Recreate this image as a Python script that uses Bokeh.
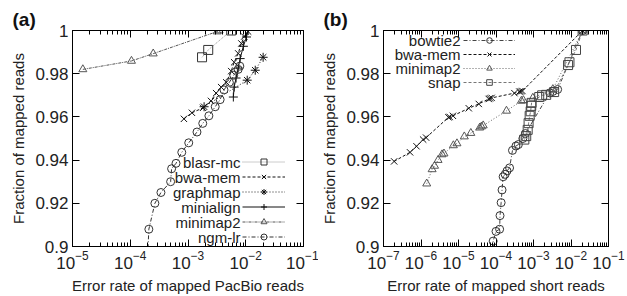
from bokeh.plotting import figure
from bokeh.layouts import row
from bokeh.models import (LogAxis, LinearAxis, FixedTicker, CustomJSTickFormatter,
                          LogTickFormatter, Label, Legend, LegendItem, Range1d)
from bokeh.embed import file_html
from bokeh.resources import INLINE

# ---------------- data: panel (a) PacBio ----------------
blasr_x = [1.75e-3, 2.24e-3, 5.6e-3]
blasr_y = [0.9876, 0.991, 1.0]
bwa_a_x = [8.5e-4, 1.17e-3, 1.82e-3, 2.5e-3, 3.07e-3, 3.75e-3, 4.6e-3, 5.6e-3, 6.3e-3,
           7.4e-3, 8.4e-3, 9.4e-3, 1.1e-2]
bwa_a_y = [0.9591, 0.9619, 0.9642, 0.9674, 0.971, 0.9738, 0.976, 0.9812, 0.9853,
           0.9894, 0.994, 0.9972, 0.9995]
graphmap_x = [1.9e-3, 1.06e-2, 1.46e-2, 2.0e-2]
graphmap_y = [0.9647, 0.977, 0.9816, 0.9876]
minialign_x = [6.1e-3, 6.3e-3, 6.8e-3, 7.4e-3, 8.0e-3, 9.1e-3, 1.03e-2, 1.1e-2]
minialign_y = [0.9692, 0.9738, 0.978, 0.9826, 0.987, 0.9927, 0.997, 1.0]
minimap2_a_x = [1.51e-5, 1.05e-4, 2.5e-4, 3.2e-3, 3.45e-3]
minimap2_a_y = [0.982, 0.9859, 0.9893, 0.9995, 1.0]
ngm_x = [2.0e-4, 2.1e-4, 2.67e-4, 3.4e-4, 5.0e-4, 5.2e-4, 6.2e-4, 7.8e-4, 1.03e-3, 1.43e-3,
         1.8e-3, 2.3e-3, 2.96e-3, 3.6e-3, 4.2e-3, 5.2e-3, 6.2e-3, 7.4e-3, 7.9e-3]
ngm_y = [0.895, 0.908, 0.920, 0.925, 0.930, 0.936, 0.9385, 0.9436, 0.948, 0.953,
         0.957, 0.9605, 0.9647, 0.968, 0.9725, 0.976, 0.9793, 0.982, 0.9835]

# ---------------- data: panel (b) short reads ----------------
bowtie2_x = [8.2e-5, 8.4e-5, 1.0e-4, 1.25e-4, 1.28e-4, 1.37e-4, 1.45e-4, 1.55e-4, 1.75e-4,
             1.97e-4, 2.3e-4, 2.75e-4, 3.4e-4, 3.95e-4, 5.2e-4, 6.1e-4, 2.7e-3, 3.3e-3,
             4.4e-3, 2.04e-2]
bowtie2_y = [0.895, 0.9025, 0.907, 0.908, 0.9143, 0.9203, 0.9262, 0.9323, 0.9334,
             0.935, 0.9364, 0.9445, 0.9465, 0.9472, 0.950, 0.9523, 0.9711, 0.9718,
             0.9727, 1.0]
bwa_b_x = [1.92e-7, 5.1e-7, 7.6e-7, 1.14e-6, 1.37e-6, 5.4e-6, 5.8e-6, 7.1e-6, 1.88e-5,
           3.47e-5, 6.4e-5, 6.9e-5, 7.65e-5, 3.1e-4, 4.2e-4, 4.6e-4, 5.06e-4, 2.04e-2]
bwa_b_y = [0.9394, 0.9436, 0.9464, 0.9495, 0.9504, 0.9598, 0.960, 0.9605, 0.964,
           0.966, 0.9683, 0.9686, 0.9688, 0.971, 0.9717, 0.9718, 0.972, 1.0]
minimap2_b_x = [1.42e-6, 1.98e-6, 2.3e-6, 2.85e-6, 3.64e-6, 4.1e-6, 7.3e-6, 9.1e-6, 1.43e-5,
                2.13e-5, 3.68e-5, 4.1e-5, 4.56e-5, 1.9e-4, 4.75e-4, 5.37e-4, 9.6e-4,
                3.28e-3, 2.04e-2]
minimap2_b_y = [0.9291, 0.9357, 0.9373, 0.940, 0.9426, 0.943, 0.9468, 0.9477, 0.9509,
                0.9525, 0.955, 0.9555, 0.956, 0.9628, 0.9674, 0.9677, 0.9688,
                0.9728, 1.0]
snap_x = [5.7e-4, 6.4e-4, 7.0e-4, 7.4e-4, 7.9e-4, 8.4e-4, 8.7e-4, 8.9e-4, 1.42e-3,
          1.7e-3, 2.18e-3, 3.55e-3, 8.35e-3, 9.1e-3, 1.36e-2, 2.04e-2]
snap_y = [0.9495, 0.9511, 0.954, 0.9571, 0.9605, 0.9626, 0.9651, 0.9665, 0.9692,
          0.970, 0.9702, 0.9715, 0.984, 0.9853, 0.991, 1.0]

# ---------------- ticks ----------------
xticks_a = [1e-5, 1e-4, 1e-3, 1e-2, 1e-1]
xticks_b = [1e-7, 1e-6, 1e-5, 1e-4, 1e-3, 1e-2, 1e-1]
yticks = [0.9, 0.92, 0.94, 0.96, 0.98, 1.0]
ylabels = ["0.9", "0.92", "0.94", "0.96", "0.98", "1"]

FONT = "Liberation Sans"
FMT_CODE = """
const i = tv.findIndex(t => Math.abs(t - tick) <= 1e-9 * Math.abs(t));
return i >= 0 ? lab[i] : "";
"""


def fmt(tvals, labels):
    return CustomJSTickFormatter(args=dict(tv=tvals, lab=labels), code=FMT_CODE)


def blank():
    return CustomJSTickFormatter(code="return '';")


def minors(tvals):
    out = []
    for t in tvals[:-1]:
        out += [m * t for m in range(2, 10)]
    return out


def style_axis(ax):
    ax.axis_line_color = "black"
    ax.axis_line_width = 1
    ax.major_tick_line_color = "black"
    ax.minor_tick_line_color = "black"
    ax.major_tick_in = 7
    ax.major_tick_out = 0
    ax.minor_tick_in = 4
    ax.minor_tick_out = 0
    ax.major_label_text_font = FONT
    ax.axis_label_text_font = FONT
    ax.axis_label_text_font_style = "normal"
    ax.axis_label_text_color = "#222222"
    ax.major_label_text_color = "#222222"


def make_panel(xt_vals, xlabel, width, left, right, tag):
    p = figure(width=width, height=296, x_axis_type="log", title=tag,
               x_range=Range1d(xt_vals[0], xt_vals[-1]), y_range=Range1d(0.9, 1.0),
               output_backend="svg", toolbar_location=None,
               min_border_left=left, min_border_right=right,
               min_border_top=30, min_border_bottom=48)
    p.title.align = "left"
    p.title.offset = -60
    p.title.standoff = 2
    p.title.text_font = FONT
    p.title.text_font_size = "19px"
    p.title.text_font_style = "bold"
    p.title.text_color = "#111111"
    p.grid.visible = False
    p.outline_line_color = "black"
    p.outline_line_width = 1
    p.background_fill_color = "white"
    xt = FixedTicker(ticks=xt_vals, minor_ticks=minors(xt_vals))
    yt = FixedTicker(ticks=yticks)
    xa = p.xaxis[0]
    xa.ticker = xt
    xa.formatter = LogTickFormatter()
    xa.axis_label = xlabel
    ya = p.yaxis[0]
    ya.ticker = yt
    ya.formatter = fmt(yticks, ylabels)
    ya.axis_label = "Fraction of mapped reads"
    for ax in (xa, ya):
        style_axis(ax)
        ax.major_label_text_font_size = "17px"
        ax.axis_label_text_font_size = "15px"
        ax.major_label_standoff = 4
        ax.axis_label_standoff = 5
    ya.minor_tick_line_color = None
    top = LogAxis(ticker=xt, formatter=blank())
    rgt = LinearAxis(ticker=yt, formatter=blank())
    for ax in (top, rgt):
        style_axis(ax)
        ax.major_label_standoff = 0
        ax.major_label_text_font_size = "1px"
    rgt.minor_tick_line_color = None
    p.add_layout(top, "above")
    p.add_layout(rgt, "right")
    return p


def series(p, x, y, marker, color, line_color, dash, size=8):
    l = p.line(x, y, line_color=line_color, line_width=1, line_dash=dash)
    s = p.scatter(x, y, marker=marker, size=size, line_color=color, line_width=1,
                  fill_color=None)
    return [l, s]


def add_legend(p, names, rends, gx, gw, ytop, step, text_right):
    n = len(names)
    items = [LegendItem(label=" ", renderers=r) for r in rends]
    leg = Legend(items=items, location=(gx, ytop - n * step), glyph_width=gw,
                 glyph_height=step, label_width=0, label_height=step, label_standoff=0,
                 spacing=0, padding=0, margin=0, border_line_color=None,
                 background_fill_alpha=0, label_text_font_size="6px")
    p.add_layout(leg)
    for i, nm in enumerate(names):
        p.add_layout(Label(x=text_right, y=ytop - (i + 0.5) * step, x_units="screen",
                           y_units="screen", text=nm, text_font=FONT,
                           text_font_size="15px", text_align="right",
                           text_baseline="middle", text_color="#222222"))


# ---------------- panel (a) ----------------
pa = make_panel(xticks_a, "Error rate of mapped PacBio reads", 318, 72, 15, "(a)")
ra = [
    series(pa, blasr_x, blasr_y, "square", "#333333", "#999999", "1 1", 9),
    series(pa, bwa_a_x, bwa_a_y, "x", "#111111", "#111111", "3 2", 9),
    series(pa, graphmap_x, graphmap_y, "asterisk", "#111111", "#222222", "1 2", 9),
    series(pa, minialign_x, minialign_y, "cross", "#111111", "#111111", "solid", 9),
    series(pa, minimap2_a_x, minimap2_a_y, "triangle", "#555555", "#555555", "3 1 1 1", 8),
    series(pa, ngm_x, ngm_y, "circle", "#333333", "#333333", "4 2 1 2", 8),
]
add_legend(pa, ["blasr-mc", "bwa-mem", "graphmap", "minialign", "minimap2", "ngm-lr"],
           ra, 170, 43, 92, 15, 168)

# ---------------- panel (b) ----------------
pb = make_panel(xticks_b, "Error rate of mapped short reads", 309, 63, 19, "(b)")
rb = [
    series(pb, bowtie2_x, bowtie2_y, "circle", "#333333", "#444444", "4 2 1 2", 8),
    series(pb, bwa_b_x, bwa_b_y, "x", "#111111", "#111111", "3 2", 9),
    series(pb, minimap2_b_x, minimap2_b_y, "triangle", "#555555", "#666666", "1 2", 8),
    series(pb, snap_x, snap_y, "square", "#444444", "#777777", "3 2", 9),
]
add_legend(pb, ["bowtie2", "bwa-mem", "minimap2", "snap"], rb, 80, 52, 213, 14, 77)

layout = row(pa, pb)
open("out.html", "w").write(file_html(layout, INLINE))
